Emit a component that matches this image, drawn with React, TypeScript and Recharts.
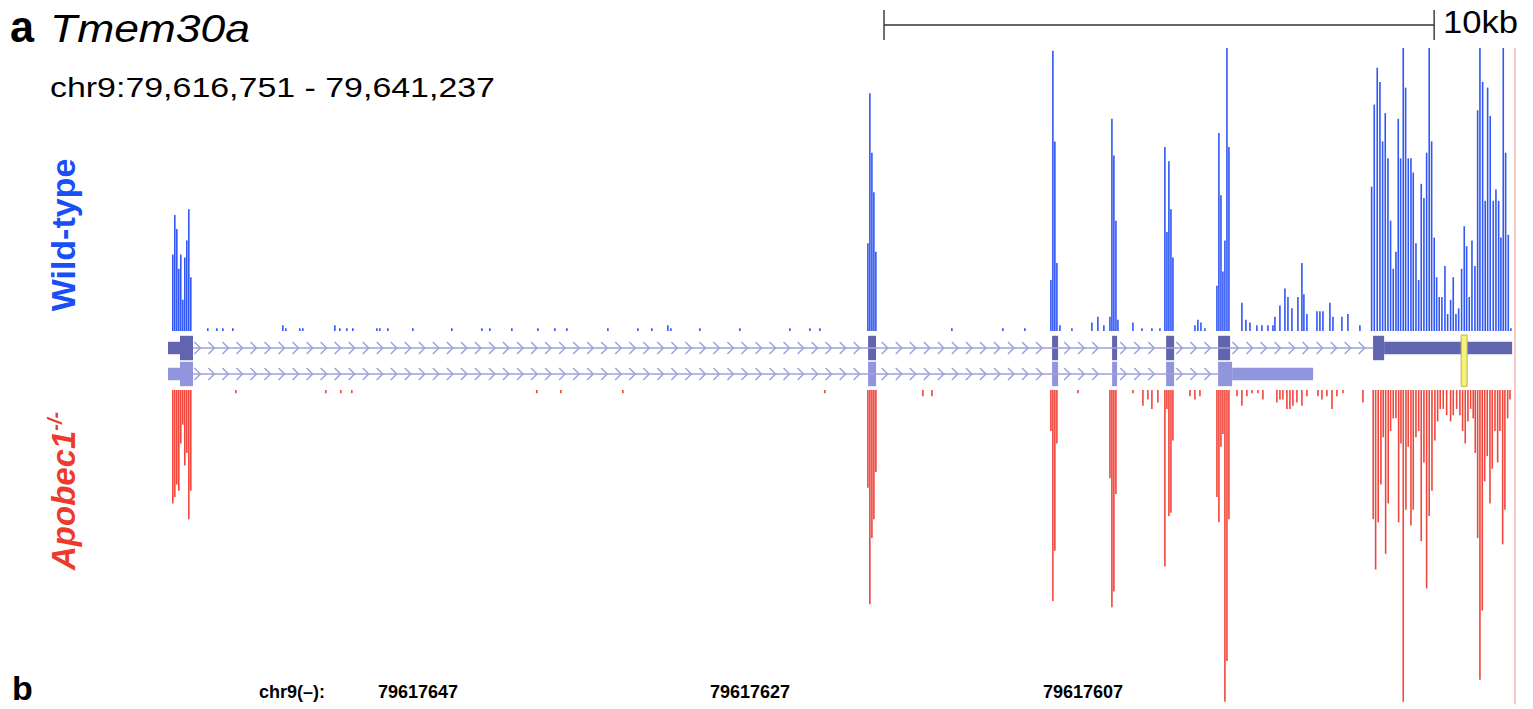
import React from 'react';
import { ComposedChart, Bar, XAxis, YAxis, ReferenceArea, ReferenceLine, Scatter, Line } from 'recharts';

// ---- genomic window: chr9:79,616,751 - 79,641,237 (positions relative to start, bp)
const REGION_START = 79616751;
const REGION_END = 79641237;
const SPAN = REGION_END - REGION_START;

// ---- Wild-type coverage (relative units, 100 = track max)
const WT_POS = [
  91, 127, 164, 200, 236, 273, 309, 345, 382, 418,
  727, 891, 1000, 1182, 2091, 2145, 2400, 2454, 3036, 3127, 3254, 3363, 3800, 3854, 4000, 4454, 5163, 5709, 5854,
  6254, 6727, 7036, 7254, 8000, 8545, 8799, 9090, 9145, 9672, 10399, 11308, 11672, 11854,
  12726, 12762, 12799, 12835, 12871,
  14253, 15180, 15580,
  16053, 16089, 16125, 16162,
  16217, 16435, 16798, 16907, 17016,
  17126, 17162, 17198, 17235, 17271,
  17544, 17708, 17889, 18035,
  18125, 18162, 18198, 18235, 18271,
  18671, 18725, 18780, 18853,
  19071, 19107, 19144, 19180, 19216, 19253, 19289,
  19525, 19598, 19671, 19798, 19889, 19998, 20089, 20125, 20216, 20307, 20362, 20434, 20543, 20616, 20652, 20707,
  20889, 20943, 20998, 21125, 21180, 21343, 21452, 21670,
  21883, 21931, 21985, 22034, 22083, 22131, 22180, 22228, 22276, 22325, 22367, 22410, 22458, 22501, 22549, 22598,
  22640, 22689, 22738, 22785, 22834, 22883, 22930, 22974, 23021, 23065, 23112, 23161, 23216, 23265, 23319, 23367,
  23416, 23465, 23519, 23567, 23610, 23658, 23707, 23761, 23810, 23852, 23901, 23948, 23992, 24039, 24094, 24143,
  24192, 24233, 24276, 24319, 24367, 24415,
];
const WT_COV = [
  27, 41, 36, 22, 27, 11, 26, 32, 43, 19,
  1, 1, 1, 1, 2, 1, 1, 1, 2, 1, 1, 1, 1, 1, 1, 1, 1, 1, 1,
  1, 1, 1, 1, 1, 1, 1, 2, 1, 1, 1, 1, 1, 1,
  31, 84, 63, 49, 28,
  1, 1, 1,
  18, 99, 67, 24,
  2, 1, 3, 5, 2,
  5, 75, 62, 39, 4,
  3, 1, 1, 1,
  65, 35, 60, 43, 26,
  2, 4, 3, 1,
  16, 70, 48, 21, 32, 100, 65,
  10, 4, 3, 2, 2, 2, 2, 5, 9, 15, 12, 8, 12, 24, 13, 6,
  7, 7, 7, 10, 5, 5, 6, 2,
  51, 80, 93, 88, 67, 77, 61, 39, 22, 28, 75, 61, 100, 86, 61, 61,
  56, 31, 18, 52, 47, 63, 100, 67, 33, 19, 12, 12, 23, 6, 11, 19,
  6, 8, 22, 37, 30, 12, 32, 23, 78, 100, 88, 46, 86, 76, 46, 50,
  46, 33, 100, 63, 34, 1,
];

// ---- Apobec1-/- coverage (relative units, 100 = track max)
const KO_POS = [
  91, 127, 164, 200, 236, 273, 309, 345, 382, 418,
  1236, 2872, 3145, 3345, 6708, 7145, 8272, 11944,
  12726, 12762, 12799, 12835, 12871,
  13726, 13890,
  16053, 16089, 16125, 16162,
  16544,
  17126, 17162, 17198, 17235,
  17544, 17726, 17816, 17889, 17998,
  18125, 18162, 18198, 18235, 18271,
  18580, 18671, 18762,
  19071, 19107, 19144, 19180, 19216, 19253, 19289,
  19435, 19525, 19616, 19707, 19816, 19907, 20161, 20216, 20270, 20343, 20398, 20452, 20525, 20616, 20707,
  20907, 20980, 21071, 21162, 21252, 21361, 21725,
  21912, 21956, 22003, 22052, 22094, 22138, 22185, 22228, 22276, 22325, 22374, 22416, 22458, 22507, 22549, 22598,
  22640, 22689, 22738, 22785, 22834, 22883, 22930, 22980, 23034, 23083, 23130, 23185, 23247, 23319, 23367, 23429,
  23488, 23537, 23585, 23634, 23683, 23730, 23767, 23810, 23852, 23894, 23938, 23985, 24034, 24076, 24125, 24174,
  24216, 24265, 24306, 24356, 24398,
];
const KO_COV = [
  36, 34, 30, 32, 17, 11, 24, 20, 41, 32,
  1, 1, 1, 1, 1, 1, 1, 1,
  31, 68, 47, 41, 26,
  2, 2,
  13, 67, 51, 17,
  1,
  28, 69, 64, 33,
  1, 5, 3, 6, 4,
  56, 6, 40, 39, 16,
  2, 3, 2,
  34, 42, 18, 14, 99, 86, 41,
  2, 5, 2, 1, 1, 3, 4, 3, 3, 6, 6, 5, 4, 5, 2,
  2, 3, 2, 6, 2, 1, 4,
  41, 57, 42, 30, 15, 52, 36, 13, 9, 9, 42, 17, 99, 38, 18, 43,
  38, 15, 13, 48, 23, 63, 40, 32, 16, 10, 6, 6, 8, 10, 8, 6,
  8, 13, 17, 10, 6, 9, 20, 47, 92, 70, 29, 21, 36, 25, 13, 23,
  13, 49, 38, 9, 3,
];

// ---- gene model (start, end, kind)
const TRANSCRIPT_1: [number, number, string][] = [
  [0, 218, 'utr'], [218, 454, 'cds'], [12726, 12871, 'cds'], [16071, 16180, 'cds'],
  [17162, 17253, 'cds'], [18144, 18289, 'cds'], [19089, 19307, 'cds'], [21906, 22107, 'cds'], [22107, 24434, 'utr'],
];
const TRANSCRIPT_2: [number, number, string][] = [
  [0, 218, 'utr'], [218, 454, 'cds'], [12726, 12871, 'cds'], [16071, 16180, 'cds'],
  [17162, 17253, 'cds'], [18144, 18289, 'cds'], [19089, 19344, 'cds'], [19344, 20816, 'utr'],
];
const EDIT_SITE: [number, number] = [23507, 23616];
const SCALE_BAR = [{ pos: 13016, y: 0.5 }, { pos: 23016, y: 0.5 }]; // 10 kb

const POSITION_LABELS = ['79617647', '79617627', '79617607'];

// ---- layout
const W = 1533;
const H = 709;
const ML = 168;
const MR = 18;
const FONT = "'Liberation Sans', Arial, Helvetica, sans-serif";
const BLUE = '#3157f4';
const RED = '#f0463c';

const wtData = WT_POS.map((pos, i) => ({ pos, v: WT_COV[i] }));
const koData = KO_POS.map((pos, i) => ({ pos, v: KO_COV[i] }));

const CHEVRON_STEP = 255;
function chevronPoints(tx: [number, number, string][], row: number) {
  const from = tx[1][1];
  const cds = tx.filter((e) => e[2] === 'cds');
  const to = cds[cds.length - 1][0];
  const pts: { pos: number; row: number }[] = [];
  for (let p = from + 80; p < to - 60; p += CHEVRON_STEP) {
    if (tx.some((e) => p > e[0] - 110 && p < e[1] + 60)) continue;
    pts.push({ pos: p, row });
  }
  return pts;
}
const chev1 = chevronPoints(TRANSCRIPT_1, 0.5);
const chev2 = chevronPoints(TRANSCRIPT_2, 1.5);

const layerStyle: React.CSSProperties = { position: 'absolute', left: 0, top: 0 };

const Chevron = (props: any) => {
  const { cx, cy } = props;
  if (cx == null || cy == null) return null;
  return (
    <path
      d={`M${cx - 3},${cy - 6} L${cx + 3},${cy} L${cx - 3},${cy + 6}`}
      fill="none"
      stroke="#9ea2dc"
      strokeWidth={1.5}
    />
  );
};

function exonAreas(tx: [number, number, string][], row: number, color: string, key: string) {
  return tx.map((e, i) => {
    const half = e[2] === 'cds' ? 0.47 : 0.24;
    return (
      <ReferenceArea
        key={`${key}-${i}`}
        x1={e[0]}
        x2={e[1]}
        y1={row - half}
        y2={row + half}
        fill={color}
        fillOpacity={1}
        stroke="none"
        ifOverflow="visible"
      />
    );
  });
}

export default function App() {
  return (
    <div style={{ position: 'absolute', left: 0, top: 0, width: W, height: H, background: '#fff', overflow: 'hidden' }}>
      {/* scale bar */}
      <div style={layerStyle}>
        <ComposedChart width={W} height={H} data={SCALE_BAR} margin={{ top: 10, bottom: H - 40, left: ML, right: MR }}>
          <XAxis type="number" dataKey="pos" domain={[0, SPAN]} hide allowDataOverflow />
          <YAxis type="number" domain={[0, 1]} hide allowDataOverflow />
          <Line dataKey="y" stroke="#333" strokeWidth={1.4} dot={false} isAnimationActive={false} />
          <ReferenceLine segment={[{ x: SCALE_BAR[0].pos, y: 0 }, { x: SCALE_BAR[0].pos, y: 1 }]} stroke="#333" strokeWidth={1.4} />
          <ReferenceLine segment={[{ x: SCALE_BAR[1].pos, y: 0 }, { x: SCALE_BAR[1].pos, y: 1 }]} stroke="#333" strokeWidth={1.4} />
        </ComposedChart>
      </div>

      {/* wild-type coverage */}
      <div style={layerStyle}>
        <ComposedChart width={W} height={H} data={wtData} margin={{ top: 48, bottom: H - 331, left: ML, right: MR }}>
          <XAxis type="number" dataKey="pos" domain={[0, SPAN]} hide allowDataOverflow />
          <YAxis type="number" domain={[0, 100]} hide allowDataOverflow />
          <ReferenceLine
            segment={[{ x: SPAN, y: 100 }, { x: SPAN, y: -132 }]}
            stroke="#f7b9b9"
            strokeWidth={1.5}
            ifOverflow="visible"
          />
          <Bar dataKey="v" fill={BLUE} barSize={1.6} isAnimationActive={false} />
        </ComposedChart>
      </div>

      {/* gene model */}
      <div style={layerStyle}>
        <ComposedChart width={W} height={H} margin={{ top: 335, bottom: H - 387, left: ML, right: MR }}>
          <XAxis type="number" dataKey="pos" domain={[0, SPAN]} hide allowDataOverflow />
          <YAxis type="number" dataKey="row" domain={[0, 2]} reversed hide allowDataOverflow />
          <ReferenceLine
            segment={[{ x: TRANSCRIPT_1[1][1], y: 0.5 }, { x: TRANSCRIPT_1[7][0], y: 0.5 }]}
            stroke="#9ea2dc"
            strokeWidth={1.5}
          />
          <ReferenceLine
            segment={[{ x: TRANSCRIPT_2[1][1], y: 1.5 }, { x: TRANSCRIPT_2[6][0], y: 1.5 }]}
            stroke="#9ea2dc"
            strokeWidth={1.5}
          />
          <Scatter data={chev1} dataKey="row" shape={<Chevron />} isAnimationActive={false} />
          <Scatter data={chev2} dataKey="row" shape={<Chevron />} isAnimationActive={false} />
          {exonAreas(TRANSCRIPT_1, 0.5, '#6165b0', 't1')}
          {exonAreas(TRANSCRIPT_2, 1.5, '#9195dd', 't2')}
          <ReferenceArea
            x1={EDIT_SITE[0]}
            x2={EDIT_SITE[1]}
            y1={0}
            y2={1.97}
            fill="#f6f37a"
            fillOpacity={1}
            stroke="#b9b54a"
            strokeWidth={1}
            ifOverflow="visible"
          />
        </ComposedChart>
      </div>

      {/* Apobec1-/- coverage */}
      <div style={layerStyle}>
        <ComposedChart width={W} height={H} data={koData} margin={{ top: 390, bottom: 4, left: ML, right: MR }}>
          <XAxis type="number" dataKey="pos" domain={[0, SPAN]} hide allowDataOverflow />
          <YAxis type="number" domain={[0, 100]} reversed hide allowDataOverflow />
          <Bar dataKey="v" fill={RED} barSize={1.6} isAnimationActive={false} />
        </ComposedChart>
      </div>

      {/* text */}
      <svg width={W} height={H} style={{ position: 'absolute', left: 0, top: 0, pointerEvents: 'none' }}>
        <text x={10} y={42} fontFamily={FONT} fontWeight="bold" fontSize={44} fill="#000" textLength={24} lengthAdjust="spacingAndGlyphs">a</text>
        <text x={50} y={42} fontFamily={FONT} fontStyle="italic" fontSize={38} fill="#000" textLength={200} lengthAdjust="spacingAndGlyphs">Tmem30a</text>
        <text x={50} y={97} fontFamily={FONT} fontSize={27} fill="#000" textLength={445} lengthAdjust="spacingAndGlyphs">
          chr9:79,616,751 - 79,641,237
        </text>
        <text x={1443} y={33} fontFamily={FONT} fontSize={32} fill="#000" textLength={75} lengthAdjust="spacingAndGlyphs">10kb</text>

        <text
          transform="translate(75,235) rotate(-90)"
          textAnchor="middle"
          fontFamily={FONT}
          fontWeight="bold"
          fontSize={34}
          fill="#1a4ef7"
        >
          Wild-type
        </text>
        <text
          transform="translate(75,570) rotate(-90)"
          fontFamily={FONT}
          fontWeight="bold"
          fontStyle="italic"
          fontSize={33}
          fill="#ee3a2c"
        >
          Apobec1
          <tspan fontSize={20} dy={-13}>-/-</tspan>
        </text>

        <text x={12} y={700} fontFamily={FONT} fontWeight="bold" fontSize={34} fill="#000">b</text>
        <text x={259} y={698} fontFamily={FONT} fontWeight="bold" fontSize={18} fill="#000">chr9(–):</text>
        {POSITION_LABELS.map((t, i) => (
          <text key={t} x={[378, 710, 1043][i]} y={698} fontFamily={FONT} fontWeight="bold" fontSize={18} fill="#000">
            {t}
          </text>
        ))}
      </svg>
    </div>
  );
}
